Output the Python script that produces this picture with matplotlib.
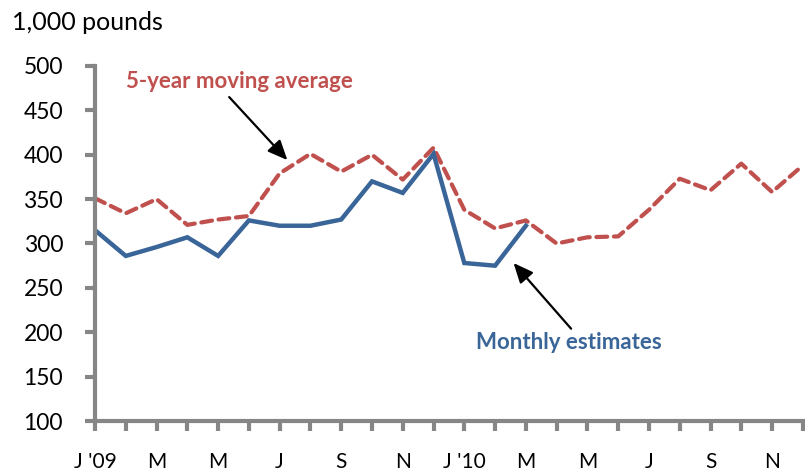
import matplotlib
matplotlib.use("Agg")
import matplotlib.pyplot as plt
import numpy as np

months = ["J '09", "F", "M", "A", "M", "J", "J", "A", "S", "O", "N", "D",
          "J '10", "F", "M", "A", "M", "J", "J", "A", "S", "O", "N", "D"]
monthly = [315, 286, 296, 307, 286, 326, 320, 320, 327, 370, 357, 401,
           278, 275, 320]
moving_avg = [351, 334, 350, 321, 327, 331, 379, 401, 381, 400, 372, 408,
              338, 317, 326, 300, 307, 308, 338, 373, 360, 390, 358, 388]
yticks = [100, 150, 200, 250, 300, 350, 400, 450, 500]

plt.rcParams['font.family'] = ['Lato', 'DejaVu Sans']

fig = plt.figure(figsize=(8.05, 4.73), dpi=100)
ax = fig.add_axes([95/805, 1-421/473, (805-95)/805, (421-66)/473])

x_all = np.arange(len(moving_avg))
x_mon = np.arange(len(monthly))
blue = '#3A6598'
red = '#C0504D'
ax.plot(x_all, moving_avg, color=red, lw=3, ls=(0, (2.6, 1.6)), dash_capstyle='round')
ax.plot(x_mon, monthly, color=blue, lw=3.2, solid_joinstyle='miter')

ax.set_xlim(0, 23.07)
ax.set_ylim(100, 500)
ax.set_yticks(yticks)
ax.set_yticklabels([str(v) for v in yticks])
ax.set_xticks(x_all)
ax.set_xticklabels([m if i % 2 == 0 else '' for i, m in enumerate(months)])

for s in ['top', 'right']:
    ax.spines[s].set_visible(False)
for s in ['left', 'bottom']:
    ax.spines[s].set_color('#868686')
    ax.spines[s].set_linewidth(3)
ax.tick_params(axis='both', colors='#868686', width=3, length=7, labelcolor='black')
ax.tick_params(axis='y', labelsize=16.5, pad=16)
ax.tick_params(axis='x', labelsize=15, pad=15)

fig.text(12/805, 1-22/473, '1,000 pounds', fontsize=18, va='center', ha='left')

arrow = dict(arrowstyle='-|>,head_length=0.5,head_width=0.22', color='black', lw=1.6,
             mutation_scale=24, shrinkA=0, shrinkB=0)
ax.text(4.7, 483, '5-year moving average', ha='center', va='center',
        fontsize=16, fontweight='bold', color=red)
ax.annotate('', xy=(6.25, 394), xytext=(4.36, 465), arrowprops=arrow)
ax.text(15.4, 189, 'Monthly estimates', ha='center', va='center',
        fontsize=16, fontweight='bold', color=blue)
ax.annotate('', xy=(13.6, 278), xytext=(15.47, 204), arrowprops=arrow)

fig.savefig('out.png', dpi=100)
